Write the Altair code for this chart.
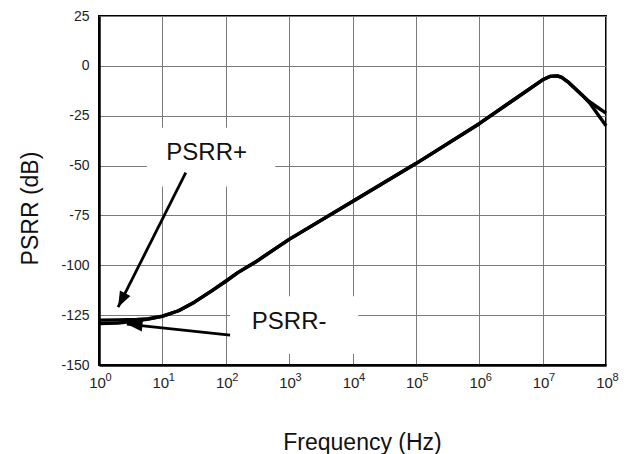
import altair as alt
import pandas as pd

# ---- curve data ----
freq = [1, 2, 4, 6, 10, 18, 32, 60, 100, 155, 290, 1e3, 1e4, 1e5, 1e6, 3e6, 1e7,
        1.3e7, 1.7e7, 2.0e7, 2.5e7, 4.3e7, 5.5e7, 7.5e7, 1e8]
psrr_plus = [-127.5, -127.4, -127.2, -126.8, -125.5, -122.8, -118.5, -112.8, -108.0, -103.7, -98.5,
             -87.0, -68.0, -49.0, -29.0, -18.5, -7.0, -5.3, -5.0, -5.8, -8.0, -15.0, -18.0, -21.0, -23.7]
psrr_minus = [-129.2, -129.0, -127.8, -127.0, -125.6, -122.8, -118.5, -112.8, -108.0, -103.7, -98.5,
              -87.0, -68.0, -49.0, -29.0, -18.5, -7.0, -5.3, -5.0, -5.8, -8.0, -15.0, -18.5, -24.5, -30.0]

x_ticks = [1, 10, 100, 1e3, 1e4, 1e5, 1e6, 1e7, 1e8]
x_exponents = ["0", "1", "2", "3", "4", "5", "6", "7", "8"]
y_ticks = [-150, -125, -100, -75, -50, -25, 0, 25]

# ---- annotation data ----
label_text = ["PSRR+", "PSRR-"]
label_freq = [50, 1000]
label_db = [-43.5, -128.5]
box_freq_lo = [5.7, 117]
box_freq_hi = [603, 12300]
box_db_hi = [-31, -115.5]
box_db_lo = [-60.5, -144.5]
arrow_freq_start = [23.4, 117]
arrow_db_start = [-53.5, -135]
arrow_freq_end = [2.0, 2.75]
arrow_db_end = [-121, -129.5]
arrow_angle = [207, 275.5]

rows = []
for f, p, m in zip(freq, psrr_plus, psrr_minus):
    rows.append({"f": f, "db": p, "series": "PSRR+"})
    rows.append({"f": f, "db": m, "series": "PSRR-"})
curves = pd.DataFrame(rows)

ann = pd.DataFrame({
    "text": label_text, "lf": label_freq, "ldb": label_db,
    "bx1": box_freq_lo, "bx2": box_freq_hi, "by1": box_db_hi, "by2": box_db_lo,
    "ax1": arrow_freq_start, "ay1": arrow_db_start,
    "ax2": arrow_freq_end, "ay2": arrow_db_end, "ang": arrow_angle,
})
exps = pd.DataFrame({"f": x_ticks, "e": x_exponents, "ybase": [y_ticks[0]] * len(x_ticks)})

xscale = alt.Scale(type="log", domain=[1, 1e8], nice=False)
yscale = alt.Scale(domain=[-150, 25], nice=False, zero=False)
GRID = "#7a7a7a"

xaxis = alt.Axis(
    values=x_ticks, title="Frequency (Hz)", grid=True, ticks=False, tickSize=0,
    labelExpr="'10'", labelOffset=-2, labelFlush=False, labelOverlap=False,
    labelFont="Liberation Sans", labelFontSize=15, labelColor="#222", labelPadding=10,
    titleFont="Liberation Sans", titleFontSize=23, titleFontWeight="normal", titleColor="#111",
    titleX=263, titleY=77, titleBaseline="middle", titleAlign="center",
    domainColor="black", domainWidth=2.5, gridColor=GRID, gridWidth=1,
)
yaxis = alt.Axis(
    values=y_ticks, title="PSRR (dB)", grid=True, ticks=False, tickSize=0,
    labelExpr="'' + datum.value", labelFlush=False,
    labelFont="Liberation Sans", labelFontSize=14, labelColor="#222", labelPadding=10,
    titleFont="Liberation Sans", titleFontSize=23, titleFontWeight="normal", titleColor="#111",
    titleX=-69, titleY=192, titleAngle=-90, titleBaseline="middle", titleAlign="center",
    domainColor="black", domainWidth=2.5, gridColor=GRID, gridWidth=1,
)

lines = alt.Chart(curves).mark_line(color="black", strokeWidth=3.4, strokeJoin="round").encode(
    x=alt.X("f:Q", scale=xscale, axis=xaxis),
    y=alt.Y("db:Q", scale=yscale, axis=yaxis),
    detail="series:N",
)

exp_text = alt.Chart(exps).mark_text(
    font="Liberation Sans", fontSize=11, color="#222", baseline="top", align="center",
    dx=9.5, dy=7,
).encode(
    x=alt.X("f:Q", scale=xscale), y=alt.Y("ybase:Q", scale=yscale), text="e:N",
)

base = alt.Chart(ann)
boxes = base.mark_rect(color="white").encode(
    x=alt.X("bx1:Q", scale=xscale), x2="bx2:Q",
    y=alt.Y("by1:Q", scale=yscale), y2="by2:Q",
)
labels = base.mark_text(font="Liberation Sans", fontSize=24, color="#111").encode(
    x=alt.X("lf:Q", scale=xscale), y=alt.Y("ldb:Q", scale=yscale), text="text:N",
)
arrows = base.mark_rule(color="black", strokeWidth=2.8).encode(
    x=alt.X("ax1:Q", scale=xscale), x2="ax2:Q",
    y=alt.Y("ay1:Q", scale=yscale), y2="ay2:Q",
)
heads = base.mark_point(
    shape="M0,0L-0.6,1.6L0.6,1.6Z", filled=True, color="black", opacity=1, size=380,
).encode(
    x=alt.X("ax2:Q", scale=xscale), y=alt.Y("ay2:Q", scale=yscale),
    angle=alt.Angle("ang:Q", scale=None),
)

chart = alt.layer(boxes, lines, labels, arrows, heads, exp_text).properties(
    width=507, height=349,
    autosize=alt.AutoSizeParams(type="none"),
    padding={"left": 99, "top": 16, "right": 18, "bottom": 89},
    background="white",
).configure_view(stroke="black", strokeWidth=2)

chart.save("out.html", embed_options={"renderer": "svg", "actions": False})
